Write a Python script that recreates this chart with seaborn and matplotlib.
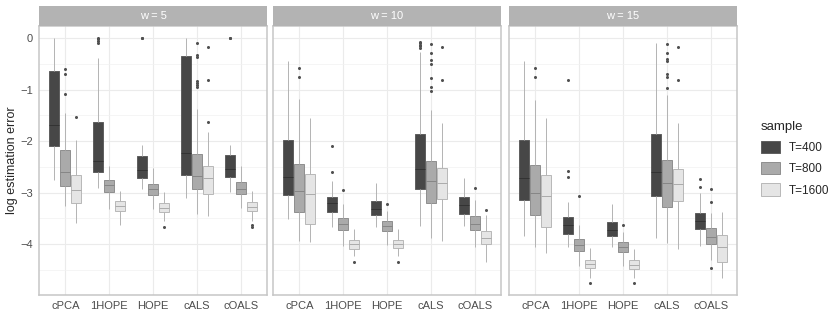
import pandas as pd
import seaborn as sns
import matplotlib.pyplot as plt
from matplotlib.patches import Patch

methods = ["cPCA", "1HOPE", "HOPE", "cALS", "cOALS"]
samples = ["T=400", "T=800", "T=1600"]
windows = [5, 10, 15]

# box summaries, [window][method][sample]
lower = [
    [[-2.75, -3.25, -3.59], [-2.90, -3.32, -3.63], [-2.93, -3.32, -3.56], [-3.11, -3.41, -3.46], [-2.99, -3.29, -3.56]],
    [[-3.52, -3.94, -3.96], [-3.66, -4.03, -4.24], [-3.66, -4.01, -4.24], [-3.64, -3.88, -3.94], [-3.64, -4.05, -4.34]],
    [[-3.85, -4.05, -4.18], [-4.06, -4.43, -4.66], [-4.06, -4.42, -4.66], [-3.88, -3.98, -4.10], [-4.03, -4.30, -4.66]],
]
q1 = [
    [[-2.10, -2.88, -3.20], [-2.60, -2.99, -3.36], [-2.72, -3.04, -3.38], [-2.65, -2.93, -3.02], [-2.69, -3.03, -3.36]],
    [[-3.04, -3.37, -3.61], [-3.38, -3.72, -4.09], [-3.43, -3.75, -4.08], [-2.93, -3.20, -3.13], [-3.41, -3.72, -4.00]],
    [[-3.15, -3.44, -3.66], [-3.80, -4.14, -4.47], [-3.85, -4.16, -4.48], [-3.07, -3.27, -3.17], [-3.71, -3.99, -4.35]],
]
median = [
    [[-1.69, -2.60, -2.95], [-2.38, -2.85, -3.26], [-2.56, -2.93, -3.30], [-2.23, -2.67, -2.72], [-2.54, -2.93, -3.28]],
    [[-2.69, -2.97, -3.03], [-3.20, -3.61, -3.99], [-3.32, -3.64, -4.00], [-2.54, -2.78, -2.82], [-3.24, -3.61, -3.88]],
    [[-2.72, -3.00, -3.06], [-3.63, -4.01, -4.39], [-3.72, -4.06, -4.40], [-2.59, -2.82, -2.83], [-3.56, -3.86, -4.06]],
]
q3 = [
    [[-0.63, -2.17, -2.65], [-1.62, -2.75, -3.17], [-2.28, -2.83, -3.20], [-0.34, -2.25, -2.48], [-2.27, -2.80, -3.19]],
    [[-1.97, -2.44, -2.64], [-3.09, -3.50, -3.93], [-3.16, -3.55, -3.92], [-1.86, -2.38, -2.52], [-3.09, -3.46, -3.74]],
    [[-1.97, -2.46, -2.65], [-3.48, -3.91, -4.30], [-3.57, -3.95, -4.31], [-1.86, -2.36, -2.54], [-3.40, -3.69, -3.83]],
]
upper = [
    [[0.00, -1.45, -1.97], [-0.38, -2.48, -2.96], [-2.08, -2.52, -2.98], [0.00, -1.38, -1.83], [-2.07, -2.48, -2.97]],
    [[-0.44, -1.18, -1.54], [-2.77, -3.22, -3.70], [-2.82, -3.35, -3.70], [-0.26, -1.39, -1.65], [-2.72, -3.14, -3.43]],
    [[-0.45, -1.20, -1.54], [-3.18, -3.63, -4.08], [-3.22, -3.77, -4.09], [-0.10, -1.10, -1.65], [-3.01, -3.40, -3.37]],
]
outliers = [
    [[[], [-0.60, -0.69, -1.09], [-1.53]],
     [[0.0, -0.02, -0.05, -0.09], [], []],
     [[0.0, 0.0], [], [-3.66]],
     [[], [-0.10, -0.33, -0.36, -0.82, -0.86, -0.91, -0.95], [-0.17, -0.81, -1.62]],
     [[0.0, 0.0], [], [-3.63, -3.66]]],
    [[[], [-0.58, -0.75], []],
     [[-2.09, -2.59], [-2.95], [-4.34]],
     [[], [-3.22], [-4.35]],
     [[-0.08, -0.10, -0.12, -0.15, -0.18], [-0.11, -0.29, -0.42, -0.49, -0.78, -0.94, -1.02], [-0.16, -0.81]],
     [[], [-2.91], [-3.33]]],
    [[[], [-0.58, -0.76], []],
     [[-0.81, -2.58, -2.69], [-3.06], [-4.75]],
     [[], [-3.62], [-4.75]],
     [[], [-0.11, -0.28, -0.41, -0.44, -0.69, -0.76, -0.96], [-0.17, -0.81]],
     [[-2.73, -2.89], [-2.93, -3.18, -4.47], []]],
]

fills = {"T=400": "#474747", "T=800": "#aaaaaa", "T=1600": "#e5e5e5"}
edges = {"T=400": "#5e5e5e", "T=800": "#8e8e8e", "T=1600": "#b8b8b8"}
medcols = {"T=400": "#333333", "T=800": "#858585", "T=1600": "#ababab"}

# long table; each quartile repeated so seaborn's quartiles land on the read values
rows = []
for i, w in enumerate(windows):
    for j, m in enumerate(methods):
        for k, s in enumerate(samples):
            vals = [lower[i][j][k], upper[i][j][k]] + outliers[i][j][k]
            vals += [q1[i][j][k]] * 100 + [median[i][j][k]] * 100 + [q3[i][j][k]] * 100
            for v in vals:
                rows.append({"w": w, "method": m, "sample": s, "value": v})
df = pd.DataFrame(rows)

sns.set_style("white")
plt.rcParams["font.family"] = ["Liberation Sans", "DejaVu Sans"]

fig = plt.figure(figsize=(8.3, 3.32), dpi=100)
W, H = 830, 332
lefts = [39, 273, 509]
pw = 228
top, bottom = 26, 295

for i, w in enumerate(windows):
    ax = fig.add_axes([lefts[i] / W, 1 - bottom / H, pw / W, (bottom - top) / H])
    sub = df[df.w == w]
    sns.boxplot(data=sub, x="method", y="value", hue="sample", order=methods,
                hue_order=samples, palette=fills, saturation=1, width=0.75, gap=0.06,
                linecolor="#b3b3b3", linewidth=0.7, showcaps=False, legend=False,
                flierprops=dict(marker="o", markersize=2.2, markerfacecolor="#505050",
                                markeredgecolor="#505050", markeredgewidth=0),
                ax=ax)
    for cont, s in zip(ax.containers, samples):
        for b in cont.boxes:
            b.set_edgecolor(edges[s])
        for md in cont.medians:
            md.set_color(medcols[s])
    ax.set_xlim(-0.6, 4.6)
    ax.set_ylim(-4.99, 0.24)
    ax.set_yticks([0, -1, -2, -3, -4])
    ax.set_yticklabels(["0", "\u22121", "\u22122", "\u22123", "\u22124"])
    ax.set_yticks([-0.5, -1.5, -2.5, -3.5, -4.5], minor=True)
    ax.set_axisbelow(True)
    ax.grid(which="major", color="#ebebeb", lw=0.8)
    ax.grid(which="minor", axis="y", color="#f2f2f2", lw=0.5)
    ax.tick_params(which="minor", length=0)
    ax.tick_params(axis="both", which="major", length=2.5, width=0.6, color="#b3b3b3",
                   labelsize=8, labelcolor="#4d4d4d", pad=2)
    for sp in ax.spines.values():
        sp.set_color("#c6c6c6")
        sp.set_linewidth(1.1)
    ax.set_xlabel("")
    ax.set_ylabel("")
    if i > 0:
        ax.tick_params(axis="y", length=0, labelleft=False)

    # facet strip
    st = fig.add_axes([lefts[i] / W, 1 - top / H, pw / W, 20 / H])
    st.set_facecolor("#b3b3b3")
    st.set_xticks([])
    st.set_yticks([])
    for sp in st.spines.values():
        sp.set_visible(False)
    st.text(0.5, 0.5, f"w = {w}", color="white", fontsize=8, ha="center", va="center",
            transform=st.transAxes)

fig.text(12 / W, 1 - 160 / H, "log estimation error", rotation=90, fontsize=9,
         ha="center", va="center")

handles = [Patch(facecolor=fills[s], edgecolor=edges[s], linewidth=0.7) for s in samples]
fig.legend(handles, samples, loc="upper left", bbox_to_anchor=(750 / W, 1 - 110 / H),
           frameon=False, title="sample", alignment="left", fontsize=8.5,
           title_fontsize=9.5, handlelength=1.6, handleheight=1.2, labelspacing=0.7,
           handletextpad=0.8)

fig.savefig("out.png", dpi=100)
